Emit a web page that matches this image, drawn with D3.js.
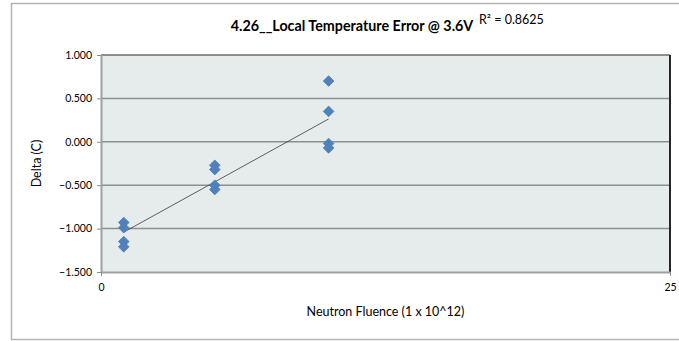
<!DOCTYPE html>
<html>
<head>
<meta charset="utf-8">
<script src="https://cdn.jsdelivr.net/npm/d3@7/dist/d3.min.js"></script>
<style>
  html, body { margin: 0; padding: 0; background: #fff; }
  svg { display: block; font-family: Lato, "Open Sans", sans-serif; }
</style>
</head>
<body>
<svg id="chart" width="679" height="341"></svg>
<script>
// Neutron fluence (1e12) for each measurement
const fluence = [1, 1, 1, 1, 5, 5, 5, 5, 10, 10, 10, 10];
// Local temperature error (deg C)
const delta = [-0.93, -0.99, -1.15, -1.21, -0.27, -0.32, -0.50, -0.55, 0.70, 0.35, -0.02, -0.07];
const yTicks = [1.0, 0.5, 0.0, -0.5, -1.0, -1.5];
const xTicks = [0, 25];
const titleText = "4.26__Local Temperature Error @ 3.6V";
const rSquaredText = "R² = 0.8625";
const xTitle = "Neutron Fluence (1 x 10^12)";
const yTitle = "Delta (C)";

const svg = d3.select("#chart");
const plot = { left: 101, top: 55, right: 670, bottom: 272 };

// chart area frame
svg.append("rect")
  .attr("x", 11.5).attr("y", 3.5)
  .attr("width", 700).attr("height", 336)
  .attr("fill", "#fff").attr("stroke", "#b3b3b3").attr("stroke-width", 1.5);

const x = d3.scaleLinear().domain([0, 25]).range([plot.left, plot.right]);
const y = d3.scaleLinear().domain([-1.5, 1.0]).range([plot.bottom, plot.top]);

// plot area fill
svg.append("rect")
  .attr("x", plot.left).attr("y", plot.top)
  .attr("width", plot.right - plot.left).attr("height", plot.bottom - plot.top)
  .attr("fill", "#e6ecec");

// horizontal gridlines
svg.append("g").selectAll("line")
  .data(yTicks.filter(v => v > -1.5 && v < 1.0))
  .join("line")
  .attr("x1", plot.left).attr("x2", plot.right)
  .attr("y1", d => y(d)).attr("y2", d => y(d))
  .attr("stroke", "#8a8f8f").attr("stroke-width", 1.5);

// plot area border: dark top/right, grey left/bottom
svg.append("line").attr("x1", plot.left).attr("x2", plot.right)
  .attr("y1", plot.top).attr("y2", plot.top)
  .attr("stroke", "#262626").attr("stroke-width", 1.2);
svg.append("line").attr("x1", plot.right).attr("x2", plot.right)
  .attr("y1", plot.top).attr("y2", plot.bottom)
  .attr("stroke", "#262626").attr("stroke-width", 2);

// y axis
const yAxis = d3.axisLeft(y).tickValues(yTicks).tickFormat(d3.format(".3f")).tickSize(4).tickSizeOuter(0);
const gy = svg.append("g").attr("transform", `translate(${plot.left},0)`).call(yAxis);
gy.select(".domain").attr("stroke", "#a0a0a0").attr("stroke-width", 2);
gy.selectAll(".tick line").attr("stroke", "#8c8c8c");
gy.selectAll(".tick text").attr("font-size", 10.5).attr("fill", "#000")
  .attr("font-family", "Lato, sans-serif").attr("x", -9);

// x axis
const xAxis = d3.axisBottom(x).tickValues(xTicks).tickFormat(d3.format("d")).tickSize(4).tickSizeOuter(0);
const gx = svg.append("g").attr("transform", `translate(0,${plot.bottom})`).call(xAxis);
gx.select(".domain").attr("stroke", "#a0a0a0").attr("stroke-width", 2);
gx.selectAll(".tick line").attr("stroke", "#8c8c8c");
gx.selectAll(".tick text").attr("font-size", 10.5).attr("fill", "#000")
  .attr("font-family", "Lato, sans-serif").attr("y", 12);

// linear least-squares trendline over the measured fluence range
const mx = d3.mean(fluence), my = d3.mean(delta);
const sxy = d3.sum(fluence, (v, i) => (v - mx) * (delta[i] - my));
const sxx = d3.sum(fluence, v => (v - mx) * (v - mx));
const slope = sxy / sxx, intercept = my - slope * mx;
const [xMin, xMax] = d3.extent(fluence);
svg.append("line")
  .attr("x1", x(xMin)).attr("y1", y(intercept + slope * xMin))
  .attr("x2", x(xMax)).attr("y2", y(intercept + slope * xMax))
  .attr("stroke", "#3a3a3a").attr("stroke-width", 0.8);

// diamond markers
const diamond = d3.symbol().type(d3.symbolDiamond2).size(72);
svg.append("g").selectAll("path")
  .data(fluence.map((f, i) => [f, delta[i]]))
  .join("path")
  .attr("d", diamond)
  .attr("transform", d => `translate(${x(d[0])},${y(d[1])})`)
  .attr("fill", "#4f81bd").attr("stroke", "#4a7ebb").attr("stroke-width", 0.8);

// titles
svg.append("text")
  .attr("x", 352).attr("y", 31)
  .attr("text-anchor", "middle")
  .attr("font-size", 14.3).attr("font-weight", "bold")
  .text(titleText);

svg.append("text")
  .attr("x", 479).attr("y", 24)
  .attr("font-size", 12.5)
  .text(rSquaredText);

svg.append("text")
  .attr("x", (plot.left + plot.right) / 2).attr("y", 316)
  .attr("text-anchor", "middle")
  .attr("font-size", 12.5)
  .text(xTitle);

svg.append("text")
  .attr("transform", `translate(41,${(plot.top + plot.bottom) / 2}) rotate(-90)`)
  .attr("text-anchor", "middle")
  .attr("font-size", 12.5)
  .text(yTitle);
</script>
</body>
</html>
